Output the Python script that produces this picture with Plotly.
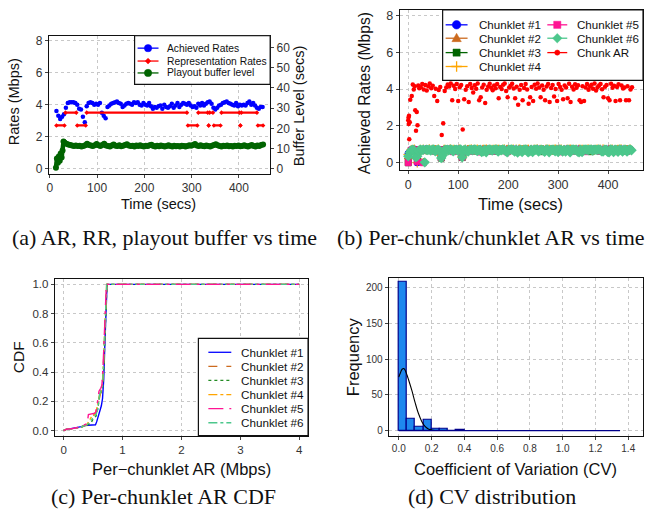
import plotly.graph_objects as go

W, H = 648, 520

# ---------------- (a) data ----------------
ar_t0, ar_dt = 14, 4
ar_values = [3.6, 3.3, 3.1, 3.25, 3.4, 3.8, 4.1, 4.15, 4.15, 4.15,
             4.1, 4.0, 3.75, 3.7, 3.25, 2.9, 3.9, 4.1, 4.15, 4.1,
             4.0, 4.05, 4.0, 4.1, 3.5, 3.3, 3.15, 3.85, 3.95, 4.05,
             4.1, 4.15, 4.2, 4.1, 4.05, 3.85, 3.95, 4.05, 4.1, 4.05,
             4.0, 4.15, 4.1, 4.15, 4.0, 3.95, 4.1, 4.0, 3.95, 4.1,
             3.9, 3.75, 3.85, 3.8, 3.9, 3.95, 3.75, 4.0, 3.85, 3.8,
             3.9, 4.05, 3.8, 3.95, 4.1, 3.85, 4.0, 4.1, 4.05, 4.0,
             4.1, 3.95, 3.85, 3.9, 3.8, 4.05, 3.95, 4.1, 3.95, 4.05,
             4.15, 4.2, 4.05, 3.8, 3.7, 3.8, 3.95, 4.0, 4.1, 4.15,
             4.2, 4.1, 4.05, 4.0, 3.95, 4.1, 3.9, 4.0, 3.95, 4.0,
             3.95, 4.1, 4.2, 4.0, 4.1, 3.95, 3.8, 3.75, 3.85, 3.85]

rr_start = [14, 33, 58, 78, 292, 314, 336, 338, 347, 363, 403, 405, 440]
rr_end = [31, 56, 76, 290, 312, 334, 336, 345, 361, 401, 403, 438, 451]
rr_level = [2.7, 3.5, 2.7, 3.5, 2.7, 3.5, 2.7, 3.5, 2.7, 3.5, 2.7, 3.5, 2.7]

buf_time_early = [13, 15, 17, 19, 21, 23, 25, 27, 29]
buf_early = [0.5, 5, 3, 6, 4, 7.5, 5.5, 9, 13.5]
buf_t0, buf_dt = 31, 4
buf_values = [13.0, 12.4, 12.0, 11.8, 11.5, 11.3, 11.5, 11.2, 11.4, 11.0,
              11.3, 11.6, 12.4, 11.8, 11.5, 11.2, 11.6, 12.3, 11.6, 11.3,
              11.8, 12.4, 11.5, 11.2, 11.0, 11.5, 12.0, 11.4, 11.2, 11.6,
              11.1, 11.4, 11.8, 12.1, 11.5, 11.2, 11.4, 11.0, 11.5, 11.3,
              11.6, 11.2, 11.0, 11.4, 11.2, 11.6, 11.9, 11.3, 11.0, 11.4,
              11.1, 11.5, 11.2, 11.0, 11.3, 11.6, 11.2, 11.0, 11.4, 11.1,
              11.3, 11.0, 11.4, 11.2, 11.0, 11.3, 11.6, 11.4, 11.8, 12.2,
              11.5, 11.2, 11.6, 11.3, 11.1, 11.5, 11.2, 11.0, 11.4, 11.8,
              12.1, 11.6, 11.3, 11.0, 11.4, 11.2, 11.5, 11.1, 11.3, 11.0,
              11.4, 11.2, 11.5, 11.1, 11.3, 11.6, 11.2, 11.0, 11.4, 11.7,
              11.3, 11.0, 11.5, 11.2, 11.8, 12.0]

# ---------------- (b) data ----------------
chunk_time_early = [0, 0.5, 1, 1.5, 2, 3, 4, 7, 9, 11, 13, 14, 15.5, 17, 18.5, 20, 22]
chunk_ar_early = [2.3, 2.45, 2.1, 2.55, 1.28, 2.2, 3.42, 3.62, 4.25, 3.98, 4.15,
                  2.85, 1.73, 2.76, 2.04, 4.2, 4.05]
chunk_t0, chunk_dt = 25, 3
chunk_ar = [4.1, 4.28, 3.98, 4.22, 3.92, 4.15, 4.3, 4.05, 4.18, 3.62,
            4.02, 3.35, 3.95, 4.12, 1.5, 2.15, 3.9, 4.08, 4.25, 4.14,
            4.3, 3.4, 4.18, 4.0, 4.27, 3.35, 4.1, 4.22, 1.8, 3.45,
            3.97, 4.16, 3.3, 4.28, 4.06, 3.82, 4.21, 4.02, 4.3, 3.4,
            3.55, 4.08, 4.24, 3.25, 3.96, 4.14, 4.29, 4.07, 3.93, 4.2,
            4.04, 4.27, 3.5, 4.12, 4.0, 4.23, 4.3, 3.9, 3.55, 4.08,
            4.18, 4.29, 4.03, 3.5, 4.13, 3.15, 3.97, 4.22, 3.4, 4.06,
            4.28, 3.98, 3.2, 3.55, 4.11, 3.35, 4.24, 4.02, 4.3, 4.09,
            3.55, 4.19, 3.96, 3.4, 4.14, 4.28, 3.3, 4.06, 4.22, 3.6,
            4.01, 3.35, 4.27, 4.12, 3.97, 3.45, 4.2, 4.08, 3.5, 4.29,
            3.3, 4.13, 3.98, 4.26, 4.07, 4.21, 3.4, 3.3, 4.16, 3.35,
            4.08, 4.28, 3.96, 4.14, 4.23, 4.02, 4.3, 3.92, 4.1, 4.19,
            4.27, 3.99, 3.55, 4.13, 4.22, 3.5, 3.4, 4.29, 4.07, 4.18,
            3.35, 4.12, 4.26, 3.4, 4.2, 4.03, 4.09, 3.4, 4.15, 3.4,
            3.98, 4.1]

cl6_dt = 3
chunklet6 = [0.35, 0.55, 0.68, 0.7, 0.66, 0.3, 0.35, 0.65, 0.7, 0.68,
             0.7, 0.02, 0.7, 0.69, 0.71, 0.66, 0.7, 0.72, 0.62, 0.68,
             0.7, 0.66, 0.25, 0.4, 0.68, 0.71, 0.7, 0.67, 0.72, 0.7,
             0.62, 0.7, 0.71, 0.66, 0.7, 0.72, 0.3, 0.68, 0.7, 0.64,
             0.6, 0.7, 0.71, 0.67, 0.72, 0.7, 0.63, 0.69, 0.71, 0.58,
             0.62, 0.7, 0.57, 0.69, 0.72, 0.7, 0.66, 0.71, 0.7, 0.72,
             0.6, 0.7, 0.68, 0.72, 0.71, 0.63, 0.57, 0.7, 0.71, 0.72,
             0.69, 0.6, 0.71, 0.55, 0.68, 0.7, 0.58, 0.7, 0.72, 0.71,
             0.56, 0.62, 0.7, 0.58, 0.71, 0.7, 0.72, 0.6, 0.69, 0.71,
             0.68, 0.59, 0.7, 0.72, 0.57, 0.69, 0.71, 0.7, 0.62, 0.71,
             0.58, 0.72, 0.7, 0.61, 0.69, 0.6, 0.71, 0.7, 0.56, 0.7,
             0.72, 0.69, 0.71, 0.6, 0.57, 0.7, 0.58, 0.71, 0.72, 0.7,
             0.69, 0.71, 0.72, 0.66, 0.7, 0.71, 0.69, 0.72, 0.7, 0.62,
             0.6, 0.71, 0.7, 0.59, 0.57, 0.72, 0.7, 0.58, 0.71, 0.69,
             0.59, 0.72, 0.7, 0.6, 0.71, 0.7, 0.6, 0.69, 0.72, 0.68]

cl_dt = 6
chunklet1 = [0.5, 0.7, 0.74, 0.0, 0.72, 0.73, 0.75, 0.72, 0.7, 0.74, 0.73, 0.3, 0.72, 0.75, 0.74,
             0.7, 0.73, 0.75, 0.32, 0.72, 0.74, 0.73, 0.75, 0.7, 0.74, 0.72, 0.75, 0.73, 0.71, 0.74,
             0.75, 0.72, 0.7, 0.74, 0.73, 0.75, 0.72, 0.74, 0.7, 0.75, 0.73, 0.74, 0.72, 0.75, 0.71,
             0.73, 0.74, 0.72, 0.75, 0.7, 0.74, 0.73, 0.72, 0.75, 0.74, 0.7, 0.73, 0.75, 0.72, 0.74,
             0.73, 0.7, 0.75, 0.72, 0.74, 0.73, 0.71, 0.75, 0.74, 0.72, 0.73, 0.75, 0.7, 0.74, 0.73]
chunklet2 = [0.3, 0.72, 0.76, 0.32, 0.74, 0.05, 0.76, 0.73, 0.75, 0.77, 0.72, 0.35, 0.76, 0.74, 0.77,
             0.73, 0.75, 0.76, 0.3, 0.74, 0.77, 0.72, 0.76, 0.74, 0.75, 0.77, 0.73, 0.76, 0.74, 0.72,
             0.77, 0.75, 0.73, 0.76, 0.74, 0.77, 0.72, 0.75, 0.76, 0.73, 0.77, 0.74, 0.75, 0.72, 0.76,
             0.77, 0.73, 0.75, 0.74, 0.76, 0.72, 0.77, 0.75, 0.73, 0.76, 0.74, 0.77, 0.72, 0.75, 0.76,
             0.73, 0.77, 0.74, 0.75, 0.76, 0.72, 0.77, 0.73, 0.75, 0.74, 0.76, 0.77, 0.72, 0.75, 0.74]
chunklet3 = [0.0, 0.66, 0.7, 0.3, 0.68, 0.7, 0.66, 0.69, 0.7, 0.64, 0.68, 0.25, 0.7, 0.67, 0.69,
             0.62, 0.7, 0.68, 0.28, 0.66, 0.69, 0.7, 0.63, 0.68, 0.7, 0.6, 0.69, 0.67, 0.7, 0.62,
             0.68, 0.7, 0.66, 0.61, 0.69, 0.7, 0.67, 0.6, 0.68, 0.7, 0.69, 0.62, 0.67, 0.7, 0.66,
             0.6, 0.69, 0.68, 0.7, 0.63, 0.67, 0.7, 0.61, 0.69, 0.68, 0.7, 0.66, 0.62, 0.69, 0.7,
             0.68, 0.6, 0.67, 0.7, 0.69, 0.63, 0.68, 0.7, 0.61, 0.69, 0.67, 0.7, 0.62, 0.68, 0.69]
chunklet4 = [0.45, 0.7, 0.73, 0.0, 0.71, 0.72, 0.7, 0.74, 0.71, 0.69, 0.73, 0.4, 0.72, 0.7, 0.74,
             0.71, 0.69, 0.73, 0.33, 0.72, 0.7, 0.74, 0.71, 0.73, 0.69, 0.72, 0.74, 0.7, 0.71, 0.73,
             0.72, 0.69, 0.74, 0.71, 0.7, 0.73, 0.72, 0.74, 0.69, 0.71, 0.73, 0.7, 0.72, 0.74, 0.71,
             0.69, 0.73, 0.72, 0.7, 0.74, 0.71, 0.73, 0.69, 0.72, 0.74, 0.7, 0.71, 0.73, 0.72, 0.69,
             0.74, 0.71, 0.7, 0.73, 0.72, 0.74, 0.69, 0.71, 0.73, 0.7, 0.72, 0.74, 0.71, 0.69, 0.73]
chunklet5 = [0.0, 0.68, 0.7, 0.05, 0.69, 0.0, 0.66, 0.7, 0.68, 0.62, 0.69, 0.28, 0.7, 0.66, 0.68,
             0.6, 0.7, 0.69, 0.3, 0.67, 0.7, 0.62, 0.68, 0.69, 0.58, 0.7, 0.67, 0.69, 0.61, 0.7,
             0.68, 0.66, 0.7, 0.59, 0.69, 0.68, 0.7, 0.62, 0.67, 0.69, 0.7, 0.6, 0.68, 0.7, 0.66,
             0.69, 0.61, 0.7, 0.68, 0.67, 0.7, 0.59, 0.69, 0.68, 0.7, 0.62, 0.67, 0.69, 0.7, 0.6,
             0.68, 0.7, 0.66, 0.69, 0.61, 0.7, 0.68, 0.67, 0.7, 0.6, 0.69, 0.68, 0.7, 0.62, 0.69]

# ---------------- (c) data ----------------
cdf_names = ["Chunklet #1", "Chunklet #2", "Chunklet #3", "Chunklet #4", "Chunklet #5", "Chunklet #6"]
cdf1_x = [0, 0.05, 0.1, 0.2, 0.3, 0.35, 0.45, 0.54, 0.56, 0.58, 0.6, 0.62, 0.64, 0.66, 0.68, 0.7, 0.72, 0.735, 0.745, 4.0]
cdf1_y = [0, 0.01, 0.012, 0.018, 0.028, 0.035, 0.038, 0.04, 0.06, 0.09, 0.11, 0.14, 0.17, 0.22, 0.35, 0.6, 0.88, 0.98, 1.0, 1.0]
cdf2_x = [0, 0.05, 0.15, 0.3, 0.4, 0.45, 0.48, 0.52, 0.56, 0.6, 0.62, 0.64, 0.66, 0.68, 0.7, 0.72, 0.735, 4.0]
cdf2_y = [0, 0.01, 0.013, 0.025, 0.04, 0.06, 0.1, 0.11, 0.14, 0.22, 0.26, 0.28, 0.3, 0.45, 0.7, 0.92, 1.0, 1.0]
cdf3_x = [0, 0.05, 0.15, 0.3, 0.4, 0.46, 0.5, 0.55, 0.58, 0.61, 0.64, 0.66, 0.68, 0.7, 0.72, 0.735, 4.0]
cdf3_y = [0, 0.01, 0.014, 0.025, 0.04, 0.05, 0.08, 0.1, 0.15, 0.24, 0.27, 0.3, 0.42, 0.66, 0.9, 1.0, 1.0]
cdf4_x = [0, 0.05, 0.15, 0.3, 0.4, 0.44, 0.48, 0.53, 0.57, 0.6, 0.63, 0.65, 0.67, 0.69, 0.71, 0.73, 4.0]
cdf4_y = [0, 0.01, 0.014, 0.026, 0.045, 0.07, 0.1, 0.11, 0.16, 0.23, 0.27, 0.29, 0.4, 0.62, 0.85, 1.0, 1.0]
cdf5_x = [0, 0.05, 0.15, 0.25, 0.35, 0.4, 0.42, 0.46, 0.53, 0.55, 0.58, 0.6, 0.63, 0.65, 0.67, 0.69, 0.705, 0.715, 0.725, 4.0]
cdf5_y = [0, 0.01, 0.015, 0.022, 0.04, 0.05, 0.11, 0.115, 0.12, 0.13, 0.2, 0.27, 0.29, 0.31, 0.45, 0.67, 0.85, 0.96, 1.0, 1.0]
cdf6_x = [0, 0.05, 0.15, 0.3, 0.4, 0.45, 0.5, 0.55, 0.58, 0.61, 0.64, 0.66, 0.68, 0.7, 0.72, 0.73, 4.0]
cdf6_y = [0, 0.01, 0.013, 0.025, 0.042, 0.06, 0.09, 0.11, 0.15, 0.25, 0.28, 0.3, 0.5, 0.72, 0.93, 1.0, 1.0]

# ---------------- (d) data ----------------
cv_bin_width = 0.05
cv_bin_last_edge = 1.35
cv_counts = [208, 16, 6, 15, 2, 2, 0, 1]
cv_curve_x = [0.0, 0.01, 0.02, 0.03, 0.04, 0.05, 0.06, 0.08, 0.10, 0.12, 0.14, 0.16, 0.18, 0.20, 0.22]
cv_curve_y = [75, 81, 86, 87, 84, 78, 71, 56, 39, 24, 13, 6, 2.5, 1, 0.3]

# ---------------- styling ----------------
SANS = "Liberation Sans"
SERIF = "Liberation Serif"
BLUE, RED, DKGREEN = "#0000FF", "#FF0000", "#006400"
C_ORANGE_D, C_ORANGE, C_PINK, C_GREEN6, C_GREEN3 = "#CC6A1E", "#FFA500", "#FF1493", "#4CC78C", "#228B22"

fig = go.Figure()

# (a)
fig.add_trace(go.Scatter(x=[ar_t0 + ar_dt * i for i in range(len(ar_values))], y=ar_values,
                         mode="markers", marker=dict(color=BLUE, size=4.5), xaxis="x", yaxis="y",
                         name="Achieved Rates", showlegend=False))
rr_x, rr_y = [], []
for s, e, lv in zip(rr_start, rr_end, rr_level):
    rr_x += [s, e, None]
    rr_y += [lv, lv, None]
fig.add_trace(go.Scatter(x=rr_x, y=rr_y, mode="lines+markers",
                         line=dict(color=RED, width=2.2), marker=dict(color=RED, size=3.5, symbol="diamond"),
                         xaxis="x", yaxis="y", name="Representation Rates", showlegend=False))
buf_x = buf_time_early + [buf_t0 + buf_dt * i for i in range(len(buf_values))]
buf_y = buf_early + buf_values
fig.add_trace(go.Scatter(x=buf_x, y=buf_y, mode="lines+markers",
                         line=dict(color=DKGREEN, width=4.5), marker=dict(color=DKGREEN, size=6),
                         xaxis="x", yaxis="y2", name="Playout buffer level", showlegend=False))

# (b)
cl_series = [(chunklet1, BLUE, "circle", 6.5), (chunklet2, C_ORANGE_D, "triangle-up", 7),
             (chunklet3, DKGREEN, "square", 6), (chunklet4, C_ORANGE, "cross-thin", 7),
             (chunklet5, C_PINK, "square", 6)]
for i, (vals, col, sym, sz) in enumerate(cl_series):
    fig.add_trace(go.Scatter(x=[cl_dt * k for k in range(len(vals))], y=vals, mode="markers",
                             marker=dict(color=col, size=sz, symbol=sym, line=dict(color=col, width=1)),
                             xaxis="x2", yaxis="y3", name="Chunklet #%d" % (i + 1), showlegend=False))
fig.add_trace(go.Scatter(x=[cl6_dt * k for k in range(len(chunklet6))], y=chunklet6, mode="markers",
                         marker=dict(color=C_GREEN6, size=8, symbol="diamond"),
                         xaxis="x2", yaxis="y3", name="Chunklet #6", showlegend=False))
fig.add_trace(go.Scatter(x=chunk_time_early + [chunk_t0 + chunk_dt * i for i in range(len(chunk_ar))],
                         y=chunk_ar_early + chunk_ar, mode="markers",
                         marker=dict(color=RED, size=4.5), xaxis="x2", yaxis="y3",
                         name="Chunk AR", showlegend=False))

# (c)
cdf_style = [(cdf1_x, cdf1_y, BLUE, "solid"), (cdf2_x, cdf2_y, C_ORANGE_D, "dash"),
             (cdf3_x, cdf3_y, C_GREEN3, "dot"), (cdf4_x, cdf4_y, C_ORANGE, "dashdot"),
             (cdf6_x, cdf6_y, C_GREEN6, "dashdot"), (cdf5_x, cdf5_y, C_PINK, "longdashdot")]
for (xx, yy, col, dash) in cdf_style:
    fig.add_trace(go.Scatter(x=xx, y=yy, mode="lines", line=dict(color=col, width=1.4, dash=dash),
                             xaxis="x3", yaxis="y4", showlegend=False))

# (d)
cv_centers = [cv_bin_width * (i + 0.5) for i in range(len(cv_counts))]
fig.add_trace(go.Bar(x=cv_centers, y=cv_counts, width=cv_bin_width,
                     marker=dict(color="#1E88EE", line=dict(color="#00008B", width=1.2)),
                     xaxis="x4", yaxis="y5", showlegend=False))
fig.add_trace(go.Scatter(x=cv_curve_x, y=cv_curve_y, mode="lines", line=dict(color="black", width=1.1, shape="spline"),
                         xaxis="x4", yaxis="y5", showlegend=False))

# ---------------- axes ----------------
def ax(domain, rng, tickvals, ticktext=None, anchor=None, size=12, **kw):
    d = dict(domain=domain, range=rng, tickvals=tickvals, showline=True, mirror=True, linecolor="#111",
             linewidth=1.2, ticks="outside", ticklen=3, tickcolor="#444", showgrid=True,
             gridcolor="#c8c8c8", griddash="dot", gridwidth=1, zeroline=False,
             tickfont=dict(family=SANS, size=size, color="#333"), anchor=anchor)
    if ticktext is not None:
        d["ticktext"] = ticktext
    d.update(kw)
    return d

def px_x(p):
    return p / W

def px_y(p):
    return 1 - p / H

fig.update_layout(
    width=W, height=H, margin=dict(l=0, r=0, t=0, b=0),
    paper_bgcolor="white", plot_bgcolor="white", showlegend=False,
    xaxis=ax([px_x(47), px_x(269)], [-2, 466], [0, 100, 200, 300, 400], anchor="y"),
    yaxis=ax([px_y(173), px_y(34)], [-0.31, 8.3], [0, 2, 4, 6, 8], anchor="x"),
    yaxis2=dict(overlaying="y", side="right", anchor="x", range=[-2.46, 65.9],
                tickvals=[0, 10, 20, 30, 40, 50, 60], ticks="outside", ticklen=3, tickcolor="#444",
                showgrid=False, zeroline=False, showline=False,
                tickfont=dict(family=SANS, size=12, color="#333")),
    xaxis2=ax([px_x(399), px_x(643)], [-17, 470], [0, 100, 200, 300, 400], anchor="y3", size=12.5),
    yaxis3=ax([px_y(169), px_y(8)], [-0.38, 8.3], [0, 2, 4, 6, 8], anchor="x2", size=12.5),
    xaxis3=ax([px_x(53), px_x(307)], [-0.15, 4.15], [0, 1, 2, 3, 4], anchor="y4", size=11.5),
    yaxis4=ax([px_y(437), px_y(279)], [-0.034, 1.038], [0, 0.2, 0.4, 0.6, 0.8, 1.0],
              ["0.0", "0.2", "0.4", "0.6", "0.8", "1.0"], anchor="x3", size=11.5),
    xaxis4=ax([px_x(388), px_x(643)], [-0.061, 1.49], [0, 0.2, 0.4, 0.6, 0.8, 1.0, 1.2, 1.4],
              ["0.0", "0.2", "0.4", "0.6", "0.8", "1.0", "1.2", "1.4"], anchor="y5", size=10),
    yaxis5=ax([px_y(437), px_y(278)], [-6.9, 213.9], [0, 50, 100, 150, 200], anchor="x4", size=10),
    bargap=0,
)

annotations = []
shapes = []

def text(x, y, s, size=15, angle=0, family=SANS, xanchor="center", color="#111"):
    annotations.append(dict(x=px_x(x), y=px_y(y), xref="paper", yref="paper", text=s, showarrow=False,
                            textangle=angle, xanchor=xanchor, yanchor="middle",
                            font=dict(family=family, size=size, color=color)))

# axis titles
text(12, 100, "Rates (Mbps)", 14.5, -90)
text(298, 105, "Buffer Level (secs)", 14.5, -90)
text(157, 204, "Time (secs)", 14.5)
text(363, 92, "Achieved Rates (Mbps)", 15.6, -90)
text(520, 204, "Time (secs)", 16.4)
text(16, 358, "CDF", 15.5, -90)
text(180, 471, "Per\u2212chunklet AR (Mbps)", 16.5)
text(352, 357, "Frequency", 16.5, -90)
text(515, 471, "Coefficient of Variation (CV)", 16.5)

# captions
text(163, 237, "(a) AR, RR, playout buffer vs time", 22, family=SERIF)
text(491, 237, "(b) Per-chunk/chunklet AR vs time", 22, family=SERIF)
text(162, 498, "(c) Per-chunklet AR CDF", 22, family=SERIF)
text(492, 498, "(d) CV distribution", 22, family=SERIF)

# histogram baseline (zero-count bins)
shapes.append(dict(type="line", xref="x4", yref="y5", x0=0, x1=cv_bin_last_edge, y0=0, y1=0,
                   line=dict(color="#00008B", width=1.2)))

# ---------------- custom legends ----------------
def box(x0, y0, x1, y1):
    shapes.append(dict(type="rect", xref="paper", yref="paper", x0=px_x(x0), x1=px_x(x1),
                       y0=px_y(y1), y1=px_y(y0), fillcolor="white", layer="above",
                       line=dict(color="#111", width=1.2)))

def lline(x0, x1, y, col, width=1.3, dash="solid"):
    shapes.append(dict(type="line", xref="paper", yref="paper", x0=px_x(x0), x1=px_x(x1),
                       y0=px_y(y), y1=px_y(y), layer="above", line=dict(color=col, width=width, dash=dash)))

def mark(cx, cy, r, col, sym):
    if sym == "circle":
        shapes.append(dict(type="circle", xref="paper", yref="paper", x0=px_x(cx - r), x1=px_x(cx + r),
                           y0=px_y(cy + r), y1=px_y(cy - r), fillcolor=col, layer="above",
                           line=dict(color=col, width=0.5)))
        return
    if sym == "square":
        pts = [(cx - r, cy - r), (cx + r, cy - r), (cx + r, cy + r), (cx - r, cy + r)]
    elif sym == "triangle":
        pts = [(cx, cy - r * 1.15), (cx + r * 1.1, cy + r * 0.8), (cx - r * 1.1, cy + r * 0.8)]
    elif sym == "diamond":
        pts = [(cx, cy - r * 1.25), (cx + r * 1.25, cy), (cx, cy + r * 1.25), (cx - r * 1.25, cy)]
    elif sym == "plus":
        path = "M %f,%f L %f,%f M %f,%f L %f,%f" % (px_x(cx - r * 1.3), px_y(cy), px_x(cx + r * 1.3), px_y(cy),
                                                    px_x(cx), px_y(cy - r * 1.3), px_x(cx), px_y(cy + r * 1.3))
        shapes.append(dict(type="path", xref="paper", yref="paper", path=path, layer="above",
                           line=dict(color=col, width=1.3)))
        return
    path = "M " + " L ".join("%f,%f" % (px_x(a), px_y(b)) for a, b in pts) + " Z"
    shapes.append(dict(type="path", xref="paper", yref="paper", path=path, fillcolor=col, layer="above",
                       line=dict(color=col, width=0.5)))

# legend (a)
box(133, 34, 269, 83)
for (yy, col, sym, r, lab) in [(46.5, BLUE, "circle", 3.7, "Achieved Rates"),
                               (59.5, RED, "diamond", 2.3, "Representation Rates"),
                               (71.5, DKGREEN, "circle", 3.7, "Playout buffer level")]:
    lline(136, 157, yy, col, 1.3)
    mark(146.5, yy, r, col, sym)
    text(164, yy, lab, 10.3, xanchor="left")

# legend (b)
box(442, 8, 643, 79)
col1 = [(23, BLUE, "circle", 4.3, "Chunklet #1"), (36.5, C_ORANGE_D, "triangle", 4.3, "Chunklet #2"),
        (51, DKGREEN, "square", 3.6, "Chunklet #3"), (65, C_ORANGE, "plus", 4.0, "Chunklet #4")]
col2 = [(23, C_PINK, "square", 3.6, "Chunklet #5"), (36.5, C_GREEN6, "diamond", 3.8, "Chunklet #6"),
        (51, RED, "circle", 2.6, "Chunk AR")]
for (yy, col, sym, r, lab) in col1:
    lline(445, 467, yy, col, 1.3)
    mark(456, yy, r, col, sym)
    text(476, yy, lab, 11.6, xanchor="left")
for (yy, col, sym, r, lab) in col2:
    lline(547, 567, yy, col, 1.3)
    mark(557, yy, r, col, sym)
    text(575, yy, lab, 11.6, xanchor="left")

# legend (c)
box(197, 339, 307, 437)
leg_c = [(BLUE, "solid"), (C_ORANGE_D, "dash"), (C_GREEN3, "dot"),
         (C_ORANGE, "dashdot"), (C_PINK, "longdashdot"), (C_GREEN6, "dashdot")]
for k, ((col, dash), lab) in enumerate(zip(leg_c, cdf_names)):
    yy = 353 + 14.2 * k
    lline(207, 230, yy, col, 1.3, dash)
    text(238, yy, lab, 11.7, xanchor="left")

fig.update_layout(annotations=annotations, shapes=shapes)
fig.write_html("out.html", config={"displayModeBar": False},
               post_script="document.body.style.margin='0';document.body.style.padding='0';")
